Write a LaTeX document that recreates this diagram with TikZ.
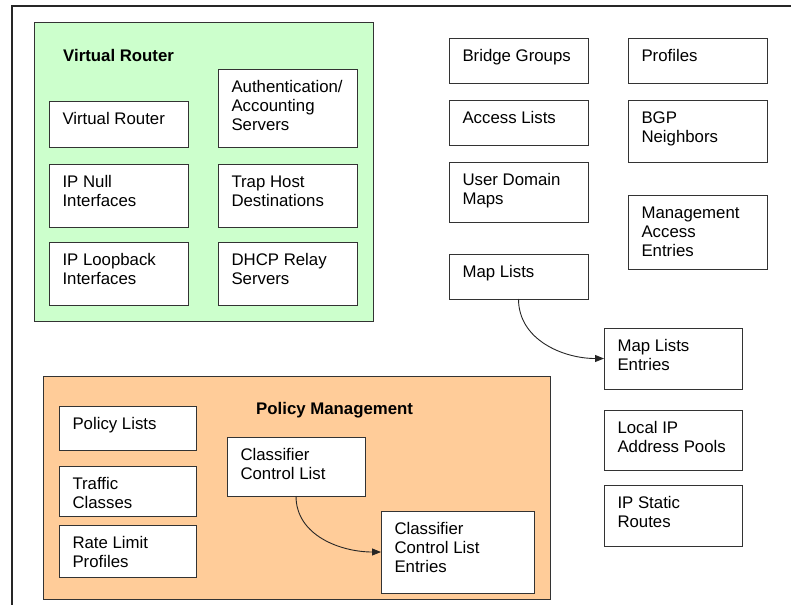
\documentclass[tikz,border=0pt]{standalone}
\usepackage{fontspec}
\setmainfont{Liberation Sans}
\usetikzlibrary{arrows.meta}
\definecolor{vrgreen}{RGB}{204,255,204}
\definecolor{pmorange}{RGB}{255,204,153}
\tikzset{
  boxnode/.style={draw=black!80, line width=1pt, fill=white, inner sep=0pt, outer sep=0pt},
  grp/.style={draw=black!80, line width=1pt},
  frameline/.style={draw=black!85, line width=1.2pt},
  link/.style={draw=black!85, line width=0.9pt, -{Triangle[length=9pt,width=7pt]}},
  ttl/.style={font=\fontsize{16.8}{19}\selectfont\bfseries, anchor=base west, inner sep=0pt},
}
\newcommand\bx[6]{%
  \pgfmathsetmacro\bw{#4-#2}\pgfmathsetmacro\bh{#5-#3}%
  \node[boxnode, anchor=north west, minimum width=\bw pt, minimum height=\bh pt] (#1) at (#2,#3)
   {\parbox[c][\bh pt][t]{\bw pt}{\raggedright\leftskip=13.5pt\baselineskip=19pt\rule{0pt}{23pt}#6}};}
\begin{document}
\begin{tikzpicture}[x=1pt,y=-1pt,font=\fontsize{16.8}{19}\selectfont]
\useasboundingbox (0,0) rectangle (791,605);
\draw[frameline] (791,6) -- (12,6) -- (12,605);
% Virtual Router group
\draw[grp, fill=vrgreen] (34,22) rectangle (373,321);
\node[ttl] (vrt) at (63,61) {Virtual Router};
\bx{vr}{49}{101}{188}{147}{Virtual Router}
\bx{auth}{218}{69}{357.5}{147}{Authentication/\\Accounting\\Servers}
\bx{null}{49}{164}{188}{227}{IP Null\\Interfaces}
\bx{trap}{218}{164}{357.5}{227}{Trap Host\\Destinations}
\bx{loop}{49}{242}{188}{305}{IP Loopback\\Interfaces}
\bx{dhcp}{218}{242}{357.5}{305}{DHCP Relay\\Servers}
% right columns
\bx{bridge}{449}{38}{588}{83}{Bridge Groups}
\bx{access}{449}{100}{588}{145}{Access Lists}
\bx{udm}{449}{162.5}{588}{222.5}{User Domain\\Maps}
\bx{maplists}{449}{254}{588}{299}{Map Lists}
\bx{profiles}{628}{38}{767.5}{83}{Profiles}
\bx{bgp}{628}{100}{767.5}{162}{BGP\\Neighbors}
\bx{mae}{628}{195}{767.5}{269}{Management\\Access\\Entries}
\bx{mle}{604}{328}{742}{389}{Map Lists\\Entries}
\bx{lipap}{604}{410.5}{742}{470}{Local IP\\Address Pools}
\bx{ipsr}{604}{485}{742}{546.5}{IP Static\\Routes}
% Policy Management group
\draw[grp, fill=pmorange] (43,376) rectangle (550,599);
\node[ttl] (pmt) at (256,414) {Policy Management};
\bx{pl}{59}{406}{196}{450}{Policy Lists}
\bx{tc}{59}{466}{196}{516}{Traffic\\Classes}
\bx{rlp}{59}{525}{196}{577}{Rate Limit\\Profiles}
\bx{ccl}{227}{437}{365}{496}{Classifier\\Control List}
\bx{ccle}{381}{511}{534}{593}{Classifier\\Control List\\Entries}
% connectors
\draw[link] (maplists.south) to[out=-90,in=180] (mle.west);
\draw[link] (ccl.south) to[out=-90,in=180] (ccle.west);
\end{tikzpicture}
\end{document}
